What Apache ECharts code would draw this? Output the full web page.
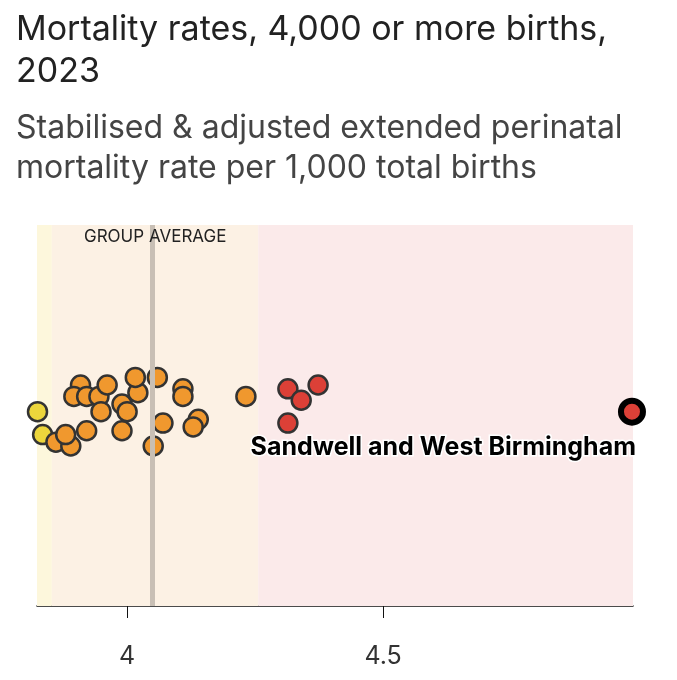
<!DOCTYPE html>
<html><head><meta charset="utf-8">
<script src="https://cdn.jsdelivr.net/npm/echarts@6/dist/echarts.min.js"></script>
<style>body{margin:0;background:#fff}#c{width:677px;height:680px}</style>
</head><body><div id="c"></div>
<script>
const yellowX=[3.825,3.835];
const yellowY=[51,45];
const orangeX=[3.861,3.890,3.880,3.921,3.909,3.896,3.921,3.945,3.961,3.949,3.990,4.000,3.990,4.021,4.016,4.059,4.109,4.109,4.070,4.051,4.139,4.129,4.232];
const orangeY=[43,42,45,46,58,55,55,55,58,51,53,51,46,56,60,60,57,55,48,42,49,47,55];
const redX=[4.314,4.340,4.373,4.314];
const redY=[57,54,58,48];
const highX=[4.986];const highY=[51];
const groupAverage=4.051;
const bands=[[3.824,3.853,'#fdf7dc'],[3.853,4.256,'#fcf1e4'],[4.256,4.988,'#fbeaea']];
const tickVals=[4,4.5];
const pts=(xs,ys)=>xs.map((x,i)=>[x,ys[i]]);
const chart=echarts.init(document.getElementById('c'));
const base={type:'scatter',symbolSize:19,itemStyle:{borderColor:'#333',borderWidth:2.5,opacity:1}};
chart.setOption({
 animation:false,
 title:[{text:'Mortality rates, 4,000 or more births,\n2023',left:11,top:4,textStyle:{fontFamily:'Inter',fontSize:34,fontWeight:'normal',color:'#222',lineHeight:42}},
  {text:'Stabilised & adjusted extended perinatal\nmortality rate per 1,000 total births',left:11,top:103,textStyle:{fontFamily:'Inter',fontSize:32,fontWeight:'normal',color:'#444',lineHeight:40}}],
 grid:{left:37,right:44,top:225,bottom:74},
 xAxis:{type:'value',min:3.824,max:4.988,splitLine:{show:false},
  axisLine:{lineStyle:{color:'#111',width:1.5}},
  axisTick:{customValues:tickVals,length:12,lineStyle:{color:'#111'}},
  axisLabel:{customValues:tickVals,fontSize:25,color:'#333',margin:38,fontFamily:'Inter',formatter:v=>String(v)}},
 yAxis:{type:'value',min:0,max:100,show:false},
 series:[
  {type:'scatter',data:[],markArea:{silent:true,data:bands.map(b=>[{xAxis:b[0],itemStyle:{color:b[2],opacity:1}},{xAxis:b[1]}])},
   markLine:{silent:true,symbol:'none',data:[{xAxis:groupAverage}],lineStyle:{color:'#c8bfb5',width:5,type:'solid',opacity:1},label:{show:false}}},
  {...base,data:pts(yellowX,yellowY),itemStyle:{...base.itemStyle,color:'#ecd63c'}},
  {...base,data:pts(orangeX,orangeY),itemStyle:{...base.itemStyle,color:'#f0982e'}},
  {...base,data:pts(redX,redY),itemStyle:{...base.itemStyle,color:'#dc4037'}},
  {...base,symbolSize:22,z:10,data:pts(highX,highY),itemStyle:{color:'#dc4037',borderColor:'#000',borderWidth:6,opacity:1},
   label:{show:true,position:'bottom',align:'right',offset:[4,4],formatter:'Sandwell and West Birmingham',fontSize:25,fontWeight:'bold',color:'#000',fontFamily:'Inter',textBorderColor:'#fff',textBorderWidth:3,opacity:1}}
 ],
 graphic:[{type:'text',left:84,top:228,z:100,style:{text:'GROUP AVERAGE',fontSize:17,fill:'#222',fontFamily:'Inter'}}]
});
</script></body></html>
